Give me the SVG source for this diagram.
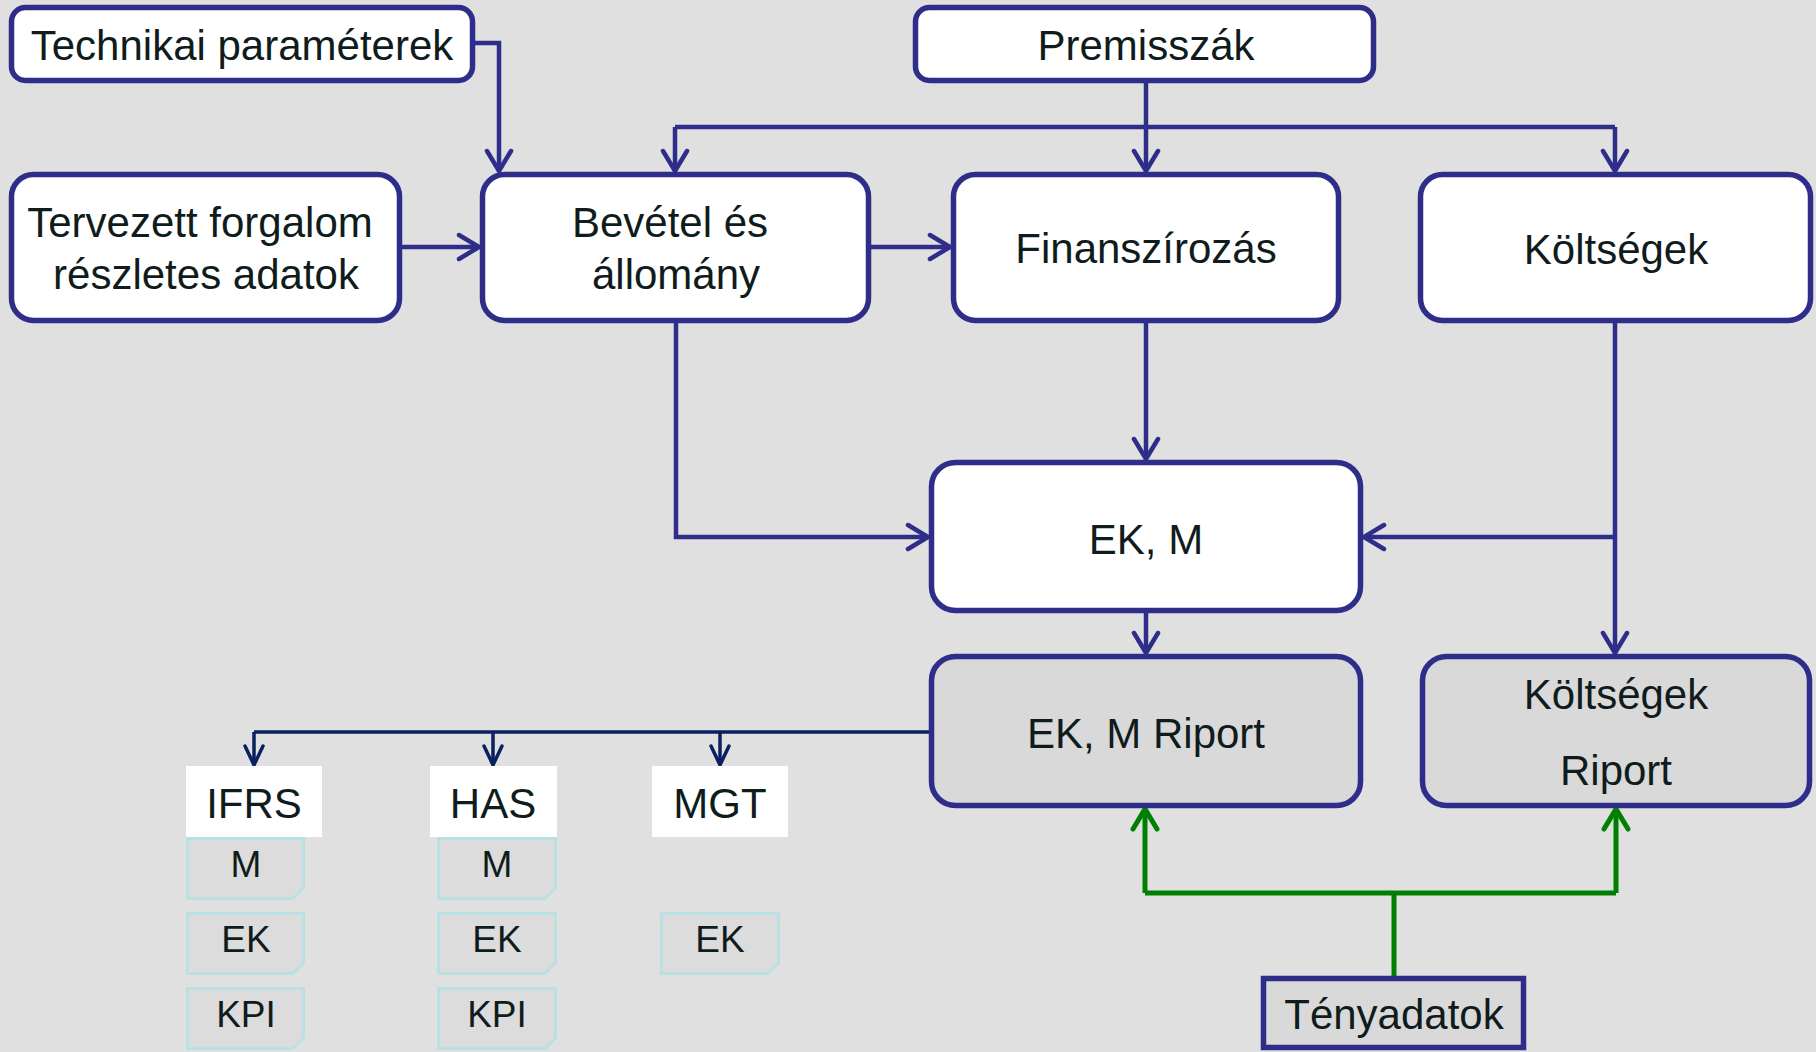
<svg xmlns="http://www.w3.org/2000/svg" width="1816" height="1052" viewBox="0 0 1816 1052">
<style>
.bg{fill:#e0e0e0}
.box{fill:#ffffff;stroke:#2e2e8a;stroke-width:5.5}
.rep{fill:#d9d9d9;stroke:#2e2e8a;stroke-width:5.5}
.lbl{fill:#ffffff}
.note{fill:#dcdcdc;stroke:#b9e1e4;stroke-width:3}
.t{font-family:"Liberation Sans",Arial,sans-serif;font-size:42px;fill:#101c1c;text-anchor:middle}
.s{font-family:"Liberation Sans",Arial,sans-serif;font-size:37px;fill:#101c1c;text-anchor:middle}
.c{fill:none;stroke:#2e2e8a;stroke-width:4.5}
.g{fill:none;stroke:#008000;stroke-width:5}
.n{fill:none;stroke:#0a2060;stroke-width:3.5}
</style>
<defs>
<marker id="ab" markerUnits="userSpaceOnUse" markerWidth="28" markerHeight="30" viewBox="0 0 28 30" refX="24" refY="15" orient="auto">
<path d="M4,3 L24,15 L4,27" fill="none" stroke="#2e2e8a" stroke-width="4.5" stroke-linecap="round" stroke-linejoin="miter"/>
</marker>
<marker id="ag" markerUnits="userSpaceOnUse" markerWidth="28" markerHeight="30" viewBox="0 0 28 30" refX="24" refY="15" orient="auto">
<path d="M4,3 L24,15 L4,27" fill="none" stroke="#008000" stroke-width="5" stroke-linecap="round"/>
</marker>
<marker id="an" markerUnits="userSpaceOnUse" markerWidth="26" markerHeight="24" viewBox="0 0 26 24" refX="22" refY="12" orient="auto">
<path d="M3,3 L22,12 L3,21" fill="none" stroke="#0a2060" stroke-width="3.5" stroke-linecap="round"/>
</marker>
</defs>
<rect class="bg" x="0" y="0" width="1816" height="1052"/>

<g id="connectors">
<path class="c" d="M475,43 H499 V171" marker-end="url(#ab)"/>
<path class="c" d="M402,247 H479" marker-end="url(#ab)"/>
<path class="c" d="M871,247 H950" marker-end="url(#ab)"/>
<path class="c" d="M1146,83 V171" marker-end="url(#ab)"/>
<path class="c" d="M675,127 H1615"/>
<path class="c" d="M675,127 V171" marker-end="url(#ab)"/>
<path class="c" d="M1615,127 V171" marker-end="url(#ab)"/>
<path class="c" d="M676,323 V537 H928" marker-end="url(#ab)"/>
<path class="c" d="M1146,323 V459" marker-end="url(#ab)"/>
<path class="c" d="M1615,323 V653" marker-end="url(#ab)"/>
<path class="c" d="M1615,537 H1364" marker-end="url(#ab)"/>
<path class="c" d="M1146,613 V653" marker-end="url(#ab)"/>
<path class="g" d="M1394,976 V893"/>
<path class="g" d="M1145,893 H1616"/>
<path class="g" d="M1145,893 V809" marker-end="url(#ag)"/>
<path class="g" d="M1616,893 V809" marker-end="url(#ag)"/>
<path class="n" d="M929,732 H254"/>
<path class="n" d="M254,732 V765" marker-end="url(#an)"/>
<path class="n" d="M493,732 V765" marker-end="url(#an)"/>
<path class="n" d="M720,732 V765" marker-end="url(#an)"/>
</g>

<g id="technikai">
<rect class="box" x="11.5" y="7.5" width="461" height="73" rx="14"/>
<text class="t" x="242" y="60">Technikai paraméterek</text>
</g>
<g id="premisszak">
<rect class="box" x="915.5" y="7.5" width="458" height="73" rx="14"/>
<text class="t" x="1146" y="60">Premisszák</text>
</g>
<g id="tervezett">
<rect class="box" x="11.5" y="174.5" width="388" height="146" rx="22"/>
<text class="t" x="200" y="237">Tervezett forgalom</text>
<text class="t" x="206" y="289">részletes adatok</text>
</g>
<g id="bevetel">
<rect class="box" x="482.5" y="174.5" width="386" height="146" rx="22"/>
<text class="t" x="670" y="237">Bevétel és</text>
<text class="t" x="676" y="289">állomány</text>
</g>
<g id="finanszirozas">
<rect class="box" x="953.5" y="174.5" width="385" height="146" rx="22"/>
<text class="t" x="1146" y="263">Finanszírozás</text>
</g>
<g id="koltsegek">
<rect class="box" x="1420.5" y="174.5" width="390" height="146" rx="22"/>
<text class="t" x="1616" y="264">Költségek</text>
</g>
<g id="ekm">
<rect class="box" x="931.5" y="462.5" width="429" height="148" rx="24"/>
<text class="t" x="1146" y="554">EK, M</text>
</g>
<g id="ekm-riport">
<rect class="rep" x="931.5" y="656.5" width="429" height="149" rx="24"/>
<text class="t" x="1146" y="748">EK, M Riport</text>
</g>
<g id="koltsegek-riport">
<rect class="rep" x="1422.5" y="656.5" width="387" height="149" rx="24"/>
<text class="t" x="1616" y="709">Költségek</text>
<text class="t" x="1616" y="785">Riport</text>
</g>
<g id="tenyadatok">
<rect class="rep" x="1263.5" y="978.5" width="260" height="69"/>
<text class="t" x="1394" y="1029">Tényadatok</text>
</g>

<g id="ifrs">
<rect class="lbl" x="186" y="766" width="136" height="71"/>
<text class="t" x="254" y="818">IFRS</text>
</g>
<g id="has">
<rect class="lbl" x="430" y="766" width="127" height="71"/>
<text class="t" x="493" y="818">HAS</text>
</g>
<g id="mgt">
<rect class="lbl" x="652" y="766" width="136" height="71"/>
<text class="t" x="720" y="818">MGT</text>
</g>

<g id="ifrs-m">
<path class="note" d="M187.5,838.5 H303.5 V888 L293,898.5 H187.5 Z"/>
<text class="s" x="246" y="877">M</text>
</g>
<g id="ifrs-ek">
<path class="note" d="M187.5,913.5 H303.5 V963 L293,973.5 H187.5 Z"/>
<text class="s" x="246" y="952">EK</text>
</g>
<g id="ifrs-kpi">
<path class="note" d="M187.5,988.5 H303.5 V1038 L293,1048.5 H187.5 Z"/>
<text class="s" x="246" y="1027">KPI</text>
</g>
<g id="has-m">
<path class="note" d="M438.5,838.5 H555.5 V888 L545,898.5 H438.5 Z"/>
<text class="s" x="497" y="877">M</text>
</g>
<g id="has-ek">
<path class="note" d="M438.5,913.5 H555.5 V963 L545,973.5 H438.5 Z"/>
<text class="s" x="497" y="952">EK</text>
</g>
<g id="has-kpi">
<path class="note" d="M438.5,988.5 H555.5 V1038 L545,1048.5 H438.5 Z"/>
<text class="s" x="497" y="1027">KPI</text>
</g>
<g id="mgt-ek">
<path class="note" d="M661.5,913.5 H778.5 V963 L768,973.5 H661.5 Z"/>
<text class="s" x="720" y="952">EK</text>
</g>
</svg>
